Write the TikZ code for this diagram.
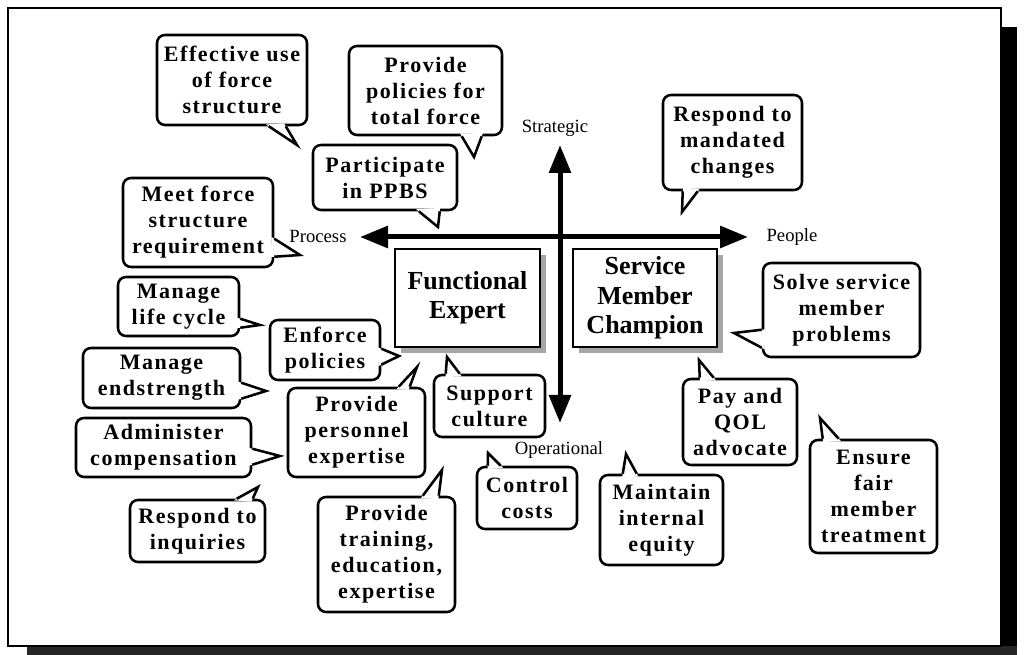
\documentclass[tikz,border=0pt]{standalone}
\usepackage{fontspec}
\setmainfont{Liberation Serif}
\newfontfamily\bubfont[LetterSpace=7]{Liberation Serif}
\usetikzlibrary{arrows.meta,calc,patterns,shadows}

% one unit = one pixel of a 1026 x 655 canvas, y pointing down
\tikzset{
  x=0.75pt, y=-0.75pt,
  wh/.style 2 args={minimum width=#1*0.75pt, minimum height=#2*0.75pt},
  bubble/.style={draw, line width=1.9pt, rounded corners=6pt, fill=white,
    inner sep=0pt, align=center,
    font=\bubfont\bfseries\fontsize{16.5pt}{19.5pt}\selectfont},
  bubbletail/.style={line width=1.9pt, line join=miter},
  role/.style={draw, line width=1.5pt, fill=white, inner sep=0pt, align=center,
    font=\bfseries\fontsize{19.5pt}{22pt}\selectfont,
    drop shadow={shadow xshift=4.5pt, shadow yshift=-4.5pt, opacity=1,
      fill=black!35}},
  axislabel/.style={font=\fontsize{14pt}{16pt}\selectfont, inner sep=0pt},
  axisline/.style={line width=3.75pt,
    {Triangle[length=21pt,width=16pt]}-{Triangle[length=21pt,width=16pt]}},
}

% speech-bubble tail: name, two base points on the outline, tip
\newcommand\tail[4]{%
  \coordinate (#1-a) at #2;
  \coordinate (#1-b) at #3;
  \coordinate (#1-t) at #4;
  \fill[white] ($(#1-a)!-2.5pt!(#1-t)$) -- (#1-t) -- ($(#1-b)!-2.5pt!(#1-t)$) -- cycle;
  \draw[bubbletail] (#1-a) -- (#1-t) -- (#1-b);}

\begin{document}
\begin{tikzpicture}
\useasboundingbox (0,0) rectangle (1026,655);

% page frame with its heavy shadow
\fill[black] (1001,27) rectangle (1017,655);
\fill[black!85] (27,646) rectangle (1017,655);
\draw[line width=1.5pt, fill=white] (8,8) rectangle (1001,646);

% axes
\coordinate (west) at (360,237);
\coordinate (east) at (748,237);
\coordinate (north) at (560,145);
\coordinate (south) at (560,423);
\draw[axisline] (west) -- (east);
\draw[axisline] (south) -- (north);
\node[axislabel] (strat) at (555,128) {Strategic};
\node[axislabel] (oper) at (559,450) {Operational};
\node[axislabel] (proc) at (318,236) {Process};
\node[axislabel] (peop) at (792,237) {People};

% the two roles
\node[role, wh={145}{98}] (fe) at (467.5,298) {Functional\\Expert};
\node[role, wh={144}{98}] (smc) at (645,298) {Service\\Member\\Champion};

% bubbles
\node[bubble, wh={150}{90}] (eff) at (232,80) {Effective use\\of force\\structure};
\node[bubble, wh={153}{89}] (pol) at (425.5,90.5) {Provide\\policies for\\total force};
\node[bubble, wh={144}{65}] (ppbs) at (385,177.5) {Participate\\in PPBS};
\node[bubble, wh={150}{89}] (meet) at (198,222.5) {Meet force\\structure\\requirement};
\node[bubble, wh={121}{59}] (life) at (178.5,306.5) {Manage\\life cycle};
\node[bubble, wh={110}{60}] (enf) at (325,350) {Enforce\\policies};
\node[bubble, wh={157}{60}] (endst) at (161.5,378) {Manage\\endstrength};
\node[bubble, wh={137}{89}] (pers) at (356.5,432.5) {Provide\\personnel\\expertise};
\node[bubble, wh={175}{59}] (adm) at (163.5,447.5) {Administer\\compensation};
\node[bubble, wh={135}{62}] (inq) at (197.5,531) {Respond to\\inquiries};
\node[bubble, wh={137}{115}] (train) at (386.5,554.5) {Provide\\training,\\education,\\expertise};
\node[bubble, wh={111}{62}] (sup) at (489.5,406) {Support\\culture};
\node[bubble, wh={100}{62}] (ctrl) at (527,498) {Control\\costs};
\node[bubble, wh={123}{90}] (maint) at (661.5,520) {Maintain\\internal\\equity};
\node[bubble, wh={114}{86}] (pay) at (740,422) {Pay and\\QOL\\advocate};
\node[bubble, wh={127}{113}] (ens) at (873.5,496.5) {Ensure\\fair\\member\\treatment};
\node[bubble, wh={157}{94}] (solve) at (841.5,310) {Solve service\\member\\problems};
\node[bubble, wh={139}{95}] (mand) at (732.5,142.5) {Respond to\\mandated\\changes};

% tails
\tail{eff}{($(eff.south west)+(113,0)$)}{($(eff.south west)+(130,0)$)}{(297,145)}
\tail{pol}{($(pol.south west)+(114,0)$)}{($(pol.south west)+(134,0)$)}{(474,157)}
\tail{ppbs}{($(ppbs.south west)+(107,0)$)}{($(ppbs.south west)+(128,0)$)}{(438,227)}
\tail{meet}{($(meet.north east)+(0,62)$)}{($(meet.north east)+(0,80)$)}{(300,255)}
\tail{life}{($(life.north east)+(0,43)$)}{($(life.north east)+(0,52)$)}{(260,325)}
\tail{enf}{($(enf.north east)+(0,30)$)}{($(enf.north east)+(0,46)$)}{(399,356)}
\tail{endst}{($(endst.north east)+(0,36)$)}{($(endst.north east)+(0,52)$)}{(266,391)}
\tail{pers}{($(pers.north west)+(112,0)$)}{($(pers.north west)+(123,0)$)}{(417,367)}
\tail{adm}{($(adm.north east)+(0,32)$)}{($(adm.north east)+(0,48)$)}{(280,456)}
\tail{inq}{($(inq.north west)+(108,0)$)}{($(inq.north west)+(124,0)$)}{(258,487)}
\tail{train}{($(train.north west)+(106,0)$)}{($(train.north west)+(122,0)$)}{(442,470)}
\tail{sup}{($(sup.north west)+(13,0)$)}{($(sup.north west)+(27,0)$)}{(447,357)}
\tail{ctrl}{($(ctrl.north west)+(12,0)$)}{($(ctrl.north west)+(25,0)$)}{(488,453)}
\tail{maint}{($(maint.north west)+(24,0)$)}{($(maint.north west)+(38,0)$)}{(626,454)}
\tail{pay}{($(pay.north west)+(18,0)$)}{($(pay.north west)+(32,0)$)}{(699,360)}
\tail{ens}{($(ens.north west)+(14,0)$)}{($(ens.north west)+(30,0)$)}{(820,418)}
\tail{solve}{($(solve.north west)+(0,68)$)}{($(solve.north west)+(0,86)$)}{(734,333)}
\tail{mand}{($(mand.south west)+(21,0)$)}{($(mand.south west)+(36,0)$)}{(682,212)}
\end{tikzpicture}
\end{document}
